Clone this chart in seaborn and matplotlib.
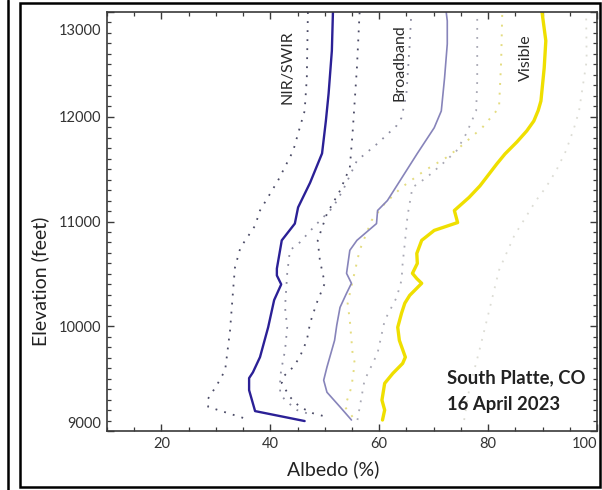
import matplotlib
matplotlib.use("Agg")
import matplotlib.pyplot as plt
from matplotlib.patches import Rectangle
from matplotlib.lines import Line2D
from matplotlib.transforms import ScaledTranslation
import seaborn as sns
import pandas as pd

# Mean albedo profiles by elevation (feet) for each spectral band
nir_elev = [9095, 9190, 9390, 9505, 9560, 9705, 9990, 10250, 10400, 10485, 10550, 10820,
            10980, 11135, 11370, 11650, 11960, 12220, 12630, 13000]
nir_alb = [46.3, 37.2, 36.1, 36.1, 36.8, 38.1, 39.6, 40.7, 42.0, 41.2, 41.2, 42.1,
           44.5, 45.1, 47.3, 49.5, 50.2, 50.7, 51.3, 51.5]

bb_elev = [9105, 9230, 9370, 9485, 9610, 9865, 10010, 10180, 10315, 10410, 10505, 10725,
           10820, 10980, 11105, 11200, 11650, 11895, 12055, 12370, 12695, 12915, 13000]
bb_alb = [54.9, 52.8, 50.4, 49.8, 50.4, 51.8, 52.2, 52.8, 54.0, 54.9, 54.0, 54.6,
          55.9, 59.5, 59.7, 61.5, 67.0, 70.1, 71.4, 72.0, 72.5, 72.5, 72.3]

vis_elev = [9105, 9200, 9295, 9455, 9550, 9645, 9705, 9865, 9990, 10125, 10220, 10295,
            10410, 10455, 10505, 10600, 10695, 10820, 10915, 10990, 11105, 11230, 11340,
            11455, 11550, 11645, 11760, 11865, 11960, 12060, 12150, 12465, 12725, 13000]
vis_alb = [60.6, 61.0, 60.5, 61.0, 62.5, 64.3, 64.8, 63.7, 63.4, 64.1, 64.7, 65.6,
           67.8, 66.9, 66.1, 67.0, 66.9, 67.8, 70.1, 74.4, 73.8, 76.5, 78.5,
           80.2, 81.6, 83.1, 85.3, 87.1, 88.4, 89.2, 89.7, 90.3, 90.6, 89.9]

# Lower / upper envelopes for each band
nir_lo_elev = [9125, 9230, 9295, 9440, 9580, 9960, 10370, 10560, 10750, 10960, 11105,
               11390, 11675, 11895, 12055, 12370, 13000]
nir_lo_alb = [35.0, 28.6, 28.4, 30.2, 31.7, 32.6, 33.2, 33.5, 34.5, 37.2, 38.1,
              41.4, 44.2, 45.4, 46.3, 46.7, 46.9]

nir_hi_elev = [9145, 9170, 9230, 9325, 9455, 9515, 9610, 9705, 9865, 10030, 10220, 10410,
               10630, 10820, 11075, 11295, 11515, 11840, 12465, 13000]
nir_hi_alb = [49.6, 47.8, 45.4, 43.6, 42.1, 42.3, 44.2, 45.4, 46.7, 47.3, 48.5, 50.0,
              49.1, 48.7, 50.4, 52.8, 54.6, 55.1, 55.9, 56.4]

bb_lo_elev = [9170, 9200, 9295, 9360, 9515, 9610, 9770, 9990, 10180, 10505, 10725, 10800,
              10960, 11135, 11295, 11580, 11745, 11915, 11990, 12220, 12695, 13000]
bb_lo_alb = [46.7, 44.9, 42.7, 41.8, 41.8, 42.1, 42.7, 43.1, 42.7, 43.1, 43.6, 45.4,
             48.2, 51.5, 53.3, 55.9, 59.7, 63.2, 64.1, 65.0, 65.6, 65.9]

bb_hi_elev = [9105, 9485, 9580, 9745, 9840, 10055, 10275, 10440, 10600, 10790, 11055,
              11325, 11420, 11550, 11675, 11840, 12055, 12340, 13000]
bb_hi_alb = [56.0, 57.3, 58.2, 59.7, 60.1, 61.0, 63.2, 64.1, 64.3, 64.7, 65.2,
             66.1, 68.7, 71.6, 74.2, 76.0, 77.8, 78.0, 78.0]

vis_lo_elev = [9135, 9230, 9420, 9650, 9745, 10055, 10220, 10725, 11010, 11170, 11325,
               11485, 11610, 11705, 11895, 12085, 12535, 13000]
vis_lo_alb = [55.1, 53.7, 54.9, 55.5, 55.1, 54.6, 54.2, 56.4, 58.6, 61.0, 64.1,
              68.3, 72.3, 74.7, 78.9, 82.0, 82.4, 82.6]

vis_hi_elev = [9105, 9390, 9770, 10150, 10535, 10865, 11200, 11325, 11485, 11675, 11895,
               12055, 12535, 13000]
vis_hi_alb = [75.6, 76.5, 78.4, 80.2, 82.0, 84.8, 88.8, 90.6, 92.5, 94.3, 95.8,
              96.7, 98.1, 98.0]

band_labels = ["NIR/SWIR", "Broadband", "Visible"]
x_ticks = [20, 40, 60, 80, 100]
y_ticks = [9000, 10000, 11000, 12000, 13000]

sns.set_theme(style="ticks")
plt.rcParams["font.family"] = ["Lato", "DejaVu Sans"]

fig = plt.figure(figsize=(6.02, 4.90), dpi=100)
ax = fig.add_axes([107 / 602, 1 - 431 / 490, 490 / 602, 419 / 490])

dot = (0, (1, 4))
series = [
    (nir_lo_alb, nir_lo_elev, "#4b4b66", 1.3, dot),
    (nir_hi_alb, nir_hi_elev, "#4b4b66", 1.3, dot),
    (bb_lo_alb, bb_lo_elev, "#8c8ca0", 1.3, dot),
    (bb_hi_alb, bb_hi_elev, "#a8a8b4", 1.3, dot),
    (vis_lo_alb, vis_lo_elev, "#e4dc80", 1.4, dot),
    (vis_hi_alb, vis_hi_elev, "#dcdcd4", 1.3, dot),
    (nir_alb, nir_elev, "#2b2096", 1.7, "-"),
    (bb_alb, bb_elev, "#8784ba", 1.2, "-"),
    (vis_alb, vis_elev, "#efdf00", 2.4, "-"),
]
for alb, elev, color, lw, ls in series:
    df = pd.DataFrame({"albedo": alb, "elevation": elev})
    sns.lineplot(data=df, x="albedo", y="elevation", sort=False, estimator=None,
                 color=color, lw=lw, linestyle=ls, ax=ax)

ax.set_xlim(10, 100)
ax.set_ylim(9000, 13000)
ax.set_xticks(x_ticks)
ax.set_yticks(y_ticks)
ax.set_xticks(range(10, 101, 5), minor=True)
ax.set_yticks(range(9000, 13001, 100), minor=True)
ax.set_xticklabels([str(v) for v in x_ticks])
ax.set_yticklabels([str(v) for v in y_ticks])

for s in ax.spines.values():
    s.set_visible(True)
    s.set_color("#3a3a3a")
    s.set_linewidth(1.2)
ax.tick_params(which="both", direction="in", top=True, right=True,
               color="#3a3a3a", labelcolor="#333333", labelsize=10.5)
ax.tick_params(which="major", length=5, width=1.0, pad=4)
ax.tick_params(which="minor", length=3, width=0.9)

# keep edge labels inside the frame
ylabels = ax.get_yticklabels()
ylabels[0].set_va("bottom")
ylabels[-1].set_va("top")
ylabels[-1].set_transform(ylabels[-1].get_transform()
                          + ScaledTranslation(0, -0.12, fig.dpi_scale_trans))
ax.get_xticklabels()[-1].set_ha("right")

ax.set_xlabel("Albedo (%)", fontsize=14, color="#222222")
ax.set_ylabel("Elevation (feet)", fontsize=14, color="#222222")
ax.xaxis.set_label_coords(0.461, -0.07)
ax.yaxis.set_label_coords(-0.118, 0.358)

ax.text(43.2, 12476, band_labels[0], rotation=90, ha="center", va="center",
        fontsize=11.5, color="#2a2a2a")
ax.text(63.7, 12514, band_labels[1], rotation=90, ha="center", va="center",
        fontsize=11.5, color="#2a2a2a")
ax.text(87.0, 12562, band_labels[2], rotation=90, ha="center", va="center",
        fontsize=11.5, color="#2a2a2a")

ax.text(72.5, 9505, "South Platte, CO", ha="left", va="center",
        fontsize=13.3, fontweight="bold", color="#222222")
ax.text(72.5, 9257, "16 April 2023", ha="left", va="center",
        fontsize=13.3, fontweight="bold", color="#222222")

# panel frame
fig.add_artist(Rectangle((20 / 602, 3 / 490), 580 / 602, 484 / 490,
                         transform=fig.transFigure, fill=False, lw=1.8, ec="black"))
fig.add_artist(Line2D([8 / 602, 8 / 602], [0, 1], transform=fig.transFigure,
                      lw=1.8, color="black"))

fig.savefig("out.png", dpi=100)
